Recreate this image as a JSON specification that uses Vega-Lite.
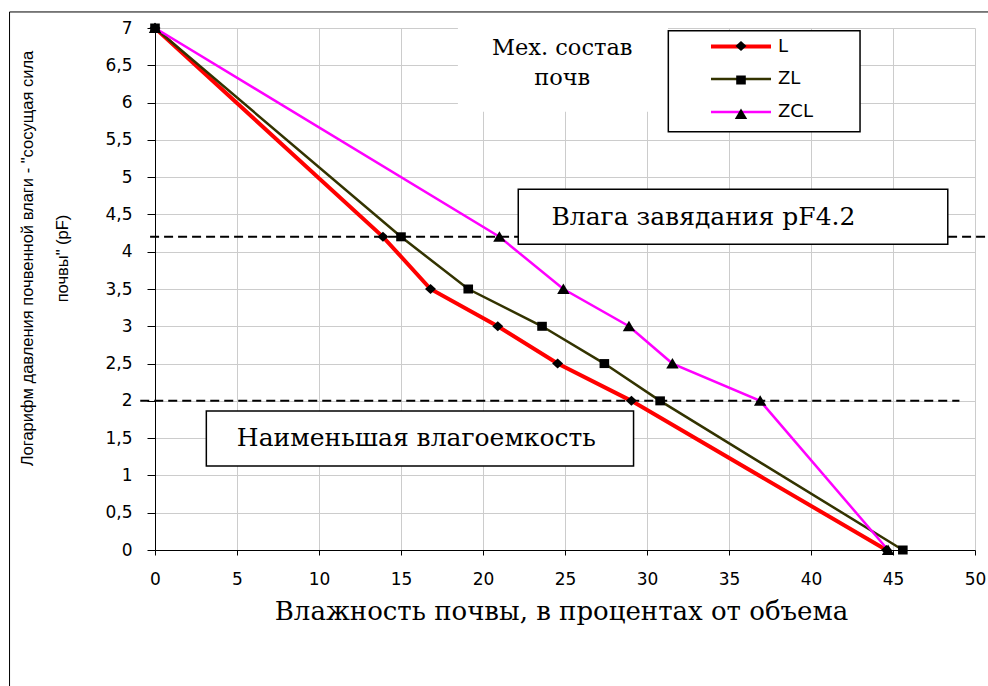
{
  "$schema": "https://vega.github.io/schema/vega-lite/v6.json",
  "autosize": {"type": "none"},
  "width": 820,
  "height": 522,
  "padding": {"left": 155, "top": 28, "right": 13, "bottom": 136},
  "background": "white",
  "config": {
    "view": {"stroke": null},
    "axis": {"domainColor": "black", "tickColor": "black", "labelColor": "black", "titleColor": "black", "gridColor": "#cccccc", "gridWidth": 1, "grid": true, "labelFlush": false, "labelOverlap": false},
    "axisX": {
      "tickCount": 10, "tickSize": 5,
      "labelFont": "DejaVu Sans", "labelFontSize": 17, "labelBaseline": "alphabetic", "labelPadding": 29,
      "titleFont": "DejaVu Serif", "titleFontSize": 26, "titleFontWeight": "normal",
      "titleX": 406, "titleY": 69.5, "titleBaseline": "alphabetic", "titleAlign": "center"
    },
    "axisY": {
      "tickCount": 14, "tickSize": 8,
      "labelFont": "DejaVu Sans", "labelFontSize": 17, "labelPadding": 15,
      "labelExpr": "replace(format(datum.value, '~g'), '.', ',')",
      "titleFont": "Liberation Sans", "titleFontSize": 16.5, "titleFontWeight": "normal",
      "titleAngle": 270, "titleX": -128, "titleY": 230, "titleAlign": "center", "titleBaseline": "middle", "titleLineHeight": 35
    }
  },
  "data": {
    "values": [
      {"series": "L", "x": 0, "y": 7},
      {"series": "L", "x": 13.9, "y": 4.2},
      {"series": "L", "x": 16.8, "y": 3.5},
      {"series": "L", "x": 20.9, "y": 3},
      {"series": "L", "x": 24.55, "y": 2.5},
      {"series": "L", "x": 29.05, "y": 2},
      {"series": "L", "x": 44.6, "y": 0},
      {"series": "ZL", "x": 0, "y": 7},
      {"series": "ZL", "x": 15.0, "y": 4.2},
      {"series": "ZL", "x": 19.1, "y": 3.5},
      {"series": "ZL", "x": 23.6, "y": 3},
      {"series": "ZL", "x": 27.4, "y": 2.5},
      {"series": "ZL", "x": 30.8, "y": 2},
      {"series": "ZL", "x": 45.6, "y": 0},
      {"series": "ZCL", "x": 0, "y": 7},
      {"series": "ZCL", "x": 21.0, "y": 4.2},
      {"series": "ZCL", "x": 24.9, "y": 3.5},
      {"series": "ZCL", "x": 28.9, "y": 3},
      {"series": "ZCL", "x": 31.55, "y": 2.5},
      {"series": "ZCL", "x": 36.9, "y": 2},
      {"series": "ZCL", "x": 44.7, "y": 0}
    ]
  },
  "layer": [
    {
      "data": {"values": [{}]},
      "mark": {"type": "rect", "fill": "transparent", "stroke": "black", "strokeWidth": 1},
      "encoding": {
        "x": {"datum": -8.87, "type": "quantitative"},
        "x2": {"datum": 60},
        "y": {"datum": 7.215, "type": "quantitative"},
        "y2": {"datum": -3}
      }
    },
    {
      "data": {"values": [{}]},
      "mark": {"type": "rect", "fill": "white", "strokeWidth": 0},
      "encoding": {
        "x": {"datum": 18.47, "type": "quantitative"},
        "x2": {"datum": 31.28},
        "y": {"datum": 7.1, "type": "quantitative"},
        "y2": {"datum": 5.878}
      }
    },
    {
      "data": {"values": [{"level": 4.2, "from": -0.3, "to": 51}, {"level": 2, "from": -0.9, "to": 49.05}]},
      "mark": {"type": "rule", "color": "black", "strokeWidth": 2, "strokeDash": [9, 5]},
      "encoding": {
        "y": {"field": "level", "type": "quantitative"},
        "x": {"field": "from", "type": "quantitative"},
        "x2": {"field": "to"}
      }
    },
    {
      "data": {"values": [
        {"x1": 22.15, "x2": 48.34, "y1": 4.837, "y2": 4.10},
        {"x1": 3.13, "x2": 29.18, "y1": 1.864, "y2": 1.126},
        {"x1": 31.3, "x2": 42.99, "y1": 6.964, "y2": 5.61}
      ]},
      "mark": {"type": "rect", "fill": "white", "stroke": "black", "strokeWidth": 1.5},
      "encoding": {
        "x": {"field": "x1", "type": "quantitative"},
        "x2": {"field": "x2"},
        "y": {"field": "y1", "type": "quantitative"},
        "y2": {"field": "y2"}
      }
    },
    {
      "data": {"values": [
        {"label": "Влага завядания pF4.2", "tx": 33.44, "ty": 4.358},
        {"label": "Наименьшая влагоемкость", "tx": 15.94, "ty": 1.395}
      ]},
      "mark": {"type": "text", "font": "DejaVu Serif", "fontSize": 25, "color": "black", "align": "center", "baseline": "alphabetic"},
      "encoding": {
        "x": {"field": "tx", "type": "quantitative"},
        "y": {"field": "ty", "type": "quantitative"},
        "text": {"field": "label"}
      }
    },
    {
      "data": {"values": [{}]},
      "mark": {"type": "text", "font": "DejaVu Serif", "fontSize": 22.5, "color": "black", "align": "center", "baseline": "alphabetic", "lineHeight": 30},
      "encoding": {
        "x": {"datum": 24.83, "type": "quantitative"},
        "y": {"datum": 6.638, "type": "quantitative"},
        "text": {"value": ["Мех. состав", "почв"]}
      }
    },
    {
      "mark": {"type": "line"},
      "encoding": {
        "x": {
          "field": "x", "type": "quantitative",
          "scale": {"domain": [0, 50], "nice": false, "zero": false},
          "axis": {"title": "Влажность почвы, в процентах от объема"}
        },
        "y": {
          "field": "y", "type": "quantitative",
          "scale": {"domain": [0, 7], "nice": false, "zero": false},
          "axis": {"title": ["Логарифм давления почвенной влаги - \"сосущая сила", "\u00a0\u00a0\u00a0\u00a0\u00a0\u00a0\u00a0\u00a0\u00a0почвы\" (pF)"]}
        },
        "color": {
          "field": "series", "type": "nominal",
          "scale": {"domain": ["L", "ZL", "ZCL"], "range": ["#ff0000", "#333300", "#ff00ff"]},
          "legend": {
            "orient": "none", "legendX": 574, "legendY": 6.5, "title": null, "padding": 0,
            "symbolType": "M-3,0H3", "symbolSize": 400, "symbolStrokeWidth": 3,
            "rowPadding": 12, "labelOffset": 25,
            "labelFont": "DejaVu Sans", "labelFontSize": 18, "labelColor": "black"
          }
        },
        "strokeWidth": {
          "field": "series", "type": "nominal",
          "scale": {"type": "ordinal", "domain": ["L", "ZL", "ZCL"], "range": [4, 2.5, 2.5]},
          "legend": null
        }
      }
    },
    {
      "mark": {"type": "point", "filled": true, "color": "black", "opacity": 1, "size": 400, "strokeWidth": 0},
      "encoding": {
        "x": {"field": "x", "type": "quantitative"},
        "y": {"field": "y", "type": "quantitative"},
        "shape": {
          "field": "series", "type": "nominal", "sort": null,
          "scale": {"range": ["M0,-0.5L0.55,0L0,0.5L-0.55,0Z", "M-0.48,-0.45H0.48V0.45H-0.48Z", "M0,-0.55L0.62,0.5L-0.62,0.5Z"]},
          "legend": {
            "orient": "none", "legendX": 576, "legendY": 8, "title": null, "padding": 0,
            "symbolSize": 400, "symbolStrokeWidth": 0, "symbolFillColor": "black", "symbolOpacity": 1,
            "rowPadding": 15, "labelOffset": 26, "labelExpr": "''",
            "labelFont": "DejaVu Sans", "labelFontSize": 18
          }
        }
      }
    }
  ]
}
